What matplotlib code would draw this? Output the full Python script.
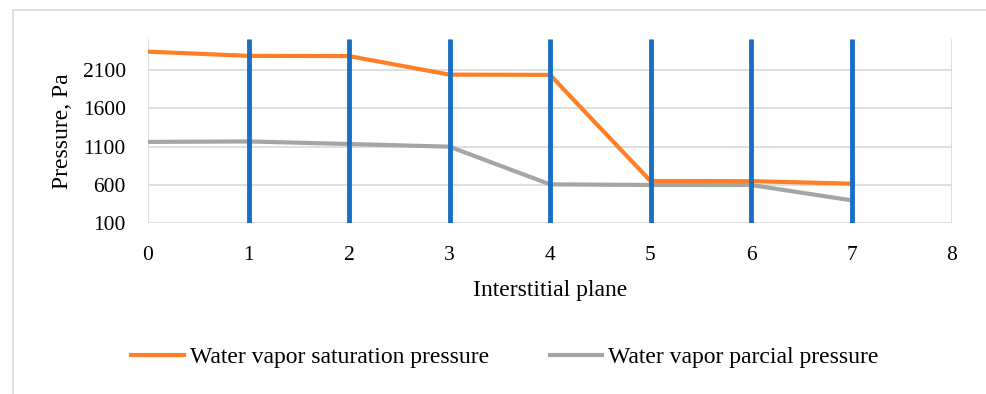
import matplotlib.pyplot as plt
from matplotlib.patches import Rectangle

# interstitial planes and pressures (Pa)
planes = [0, 1, 2, 3, 4, 5, 6, 7]
saturation = [2340, 2285, 2282, 2040, 2037, 652, 650, 617]
partial = [1162, 1168, 1135, 1100, 608, 600, 600, 400]
plane_lines = [1, 2, 3, 4, 5, 6, 7]
y_ticks = [100, 600, 1100, 1600, 2100]
x_ticks = [0, 1, 2, 3, 4, 5, 6, 7, 8]

plt.rcParams['font.family'] = ['Liberation Serif', 'DejaVu Serif']

fig = plt.figure(figsize=(9.86, 3.94), dpi=100)
fig.patches.append(Rectangle((13 / 986, -0.1), 1.2, (394 - 10) / 394 + 0.1,
                             transform=fig.transFigure, fill=False,
                             edgecolor='#d9d9d9', linewidth=1.2, zorder=0))

ax = fig.add_axes([148 / 986, 1 - 223.3 / 394, (952 - 148) / 986, (223.3 - 39) / 394])
ax.set_xlim(0, 8)
ax.set_ylim(100, 2505)
ax.set_xticks(x_ticks)
ax.set_yticks(y_ticks)
ax.grid(True, color='#d9d9d9', linewidth=1.2, zorder=0)
ax.set_axisbelow(True)
for s in ax.spines.values():
    s.set_visible(False)
ax.tick_params(length=0, labelsize=15.5, colors='black')
ax.tick_params(axis='x', pad=16)
ax.tick_params(axis='y', pad=16)

ax.plot(planes, partial, color='#a5a5a5', linewidth=3, zorder=2,
        label='Water vapor parcial pressure', solid_capstyle='butt')
ax.plot(planes, saturation, color='#ff7f27', linewidth=3, zorder=3,
        label='Water vapor saturation pressure', solid_capstyle='butt')
ax.vlines(plane_lines, 100, 2505, color='#1a6ec4', linewidth=3.5, zorder=4)

ax.set_xlabel('Interstitial plane', fontsize=17, labelpad=11)
ax.set_ylabel('Pressure, Pa', fontsize=17, labelpad=7)

h, l = ax.get_legend_handles_labels()
fig.legend(h[::-1], l[::-1], loc='center', bbox_to_anchor=(0.511, 1 - 357 / 394),
           ncol=2, frameon=False, fontsize=17, handlelength=2.4, handletextpad=0.15,
           columnspacing=2.5)

fig.savefig('out.png', dpi=100)
